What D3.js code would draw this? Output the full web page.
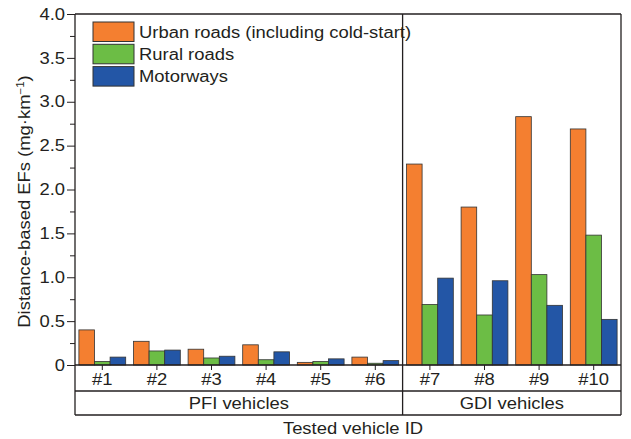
<!DOCTYPE html>
<html lang="en">
<head>
<meta charset="UTF-8">
<title>Distance-based EFs</title>
<script src="https://d3js.org/d3.v7.min.js"></script>
<style>
  * { margin: 0; padding: 0; }
  body { background: #fff; }
  text { font-family: "Liberation Sans", Arial, sans-serif; fill: #231f20; }
</style>
</head>
<body>
<div id="chart"></div>
<script>
// data
const vehicles = ["#1", "#2", "#3", "#4", "#5", "#6", "#7", "#8", "#9", "#10"];
const urban    = [0.40, 0.27, 0.18, 0.23, 0.03, 0.09, 2.29, 1.80, 2.83, 2.69];
const rural    = [0.04, 0.16, 0.08, 0.06, 0.04, 0.02, 0.69, 0.57, 1.03, 1.48];
const motorway = [0.09, 0.17, 0.10, 0.15, 0.07, 0.05, 0.99, 0.96, 0.68, 0.52];
const seriesNames = ["Urban roads (including cold-start)", "Rural roads", "Motorways"];
const colors = ["#f47f30", "#6cbd45", "#2356a6"];
const groups = [{name: "PFI vehicles", from: 0, to: 5}, {name: "GDI vehicles", from: 6, to: 9}];
const yTicks = [0, 0.5, 1.0, 1.5, 2.0, 2.5, 3.0, 3.5, 4.0];

const W = 631, H = 439;
const mLeft = 75, mRight = 621, mTop = 14, mBottom = 365;
const widen = 1.15; // the original lettering is a bit wider than Arial

const svg = d3.select("#chart").append("svg")
  .attr("width", W).attr("height", H);

const x = d3.scaleBand().domain(vehicles).range([mLeft, mRight]).padding(0);
const x1 = d3.scaleBand().domain(seriesNames).range([0, x.bandwidth()])
  .paddingOuter(0.25).paddingInner(0);
const y = d3.scaleLinear().domain([0, 4]).range([mBottom, mTop]);

const table = vehicles.map((v, i) => ({id: v, vals: [urban[i], rural[i], motorway[i]]}));

// bars
const g = svg.selectAll("g.grp").data(table).enter().append("g")
  .attr("class", "grp")
  .attr("transform", d => `translate(${x(d.id)},0)`);
g.selectAll("rect").data(d => d.vals.map((v, k) => ({k, v}))).enter().append("rect")
  .attr("x", d => x1(seriesNames[d.k]))
  .attr("width", x1.bandwidth())
  .attr("y", d => y(d.v))
  .attr("height", d => mBottom - y(d.v))
  .attr("fill", d => colors[d.k])
  .attr("stroke", "#333")
  .attr("stroke-width", 0.8);

// y axis with minor ticks
const yMinor = d3.range(0.25, 4, 0.5);
svg.append("g").attr("transform", `translate(${mLeft},0)`)
  .call(d3.axisLeft(y).tickValues(yMinor).tickSize(5).tickFormat(""))
  .call(a => a.select(".domain").remove())
  .selectAll("line").attr("stroke", "#231f20");
const yAx = svg.append("g").attr("transform", `translate(${mLeft},0)`)
  .call(d3.axisLeft(y).tickValues(yTicks).tickSize(8).tickPadding(2)
    .tickFormat(d => d === 0 ? "0" : d3.format(".1f")(d)));
yAx.select(".domain").remove();
yAx.selectAll("line").attr("stroke", "#231f20");
yAx.selectAll("text").style("font-size", "16px").attr("fill", "#231f20");

// x axis ticks (pointing down)
const xAx = svg.append("g").attr("transform", `translate(0,${mBottom})`)
  .call(d3.axisBottom(x).tickSize(5).tickPadding(4));
xAx.select(".domain").remove();
xAx.selectAll("line").attr("stroke", "#231f20");
xAx.selectAll("text").style("font-size", "16px").attr("fill", "#231f20");

// frame lines
const line = (xa, ya, xb, yb, w) => svg.append("line")
  .attr("x1", xa).attr("y1", ya).attr("x2", xb).attr("y2", yb)
  .attr("stroke", "#231f20").attr("stroke-width", w || 1.3);
const row1 = 391, row2 = 415;
line(mLeft, mTop, mRight, mTop);
line(mLeft, mTop, mLeft, row2);
line(mRight, mTop, mRight, row2);
line(mLeft, mBottom, mRight, mBottom);
line(mLeft, row1, mRight, row1);
line(mLeft, row2, mRight, row2);
const divX = x(vehicles[groups[1].from]);
line(divX, mTop, divX, row2);

// group labels
svg.selectAll("text.grpLabel").data(groups).enter().append("text")
  .attr("class", "grpLabel")
  .attr("x", d => (x(vehicles[d.from]) + x(vehicles[d.to]) + x.bandwidth()) / 2)
  .attr("y", (row1 + row2) / 2 + 6)
  .attr("text-anchor", "middle")
  .style("font-size", "16px")
  .text(d => d.name);

// axis titles
svg.append("text")
  .attr("x", (mLeft + mRight) / 2 + 5).attr("y", 434)
  .attr("text-anchor", "middle").style("font-size", "16px")
  .text("Tested vehicle ID");
const yt = svg.append("text")
  .attr("transform", `translate(30,${(mTop + mBottom) / 2 + 12}) rotate(-90)`)
  .attr("text-anchor", "middle").style("font-size", "16px");
yt.append("tspan").text("Distance-based EFs (mg·km");
yt.append("tspan").attr("dy", -6).style("font-size", "10px").text("−1");
yt.append("tspan").attr("dy", 6).text(")");

// legend
const leg = svg.selectAll("g.leg").data(seriesNames).enter().append("g")
  .attr("class", "leg")
  .attr("transform", (d, i) => `translate(93,${22 + i * 22.3})`);
leg.append("rect").attr("width", 41).attr("height", 19.5)
  .attr("fill", (d, i) => colors[i]).attr("stroke", "#333").attr("stroke-width", 1);
leg.append("text").attr("x", 46).attr("y", 15.5)
  .style("font-size", "16px").text(d => d);

// stretch lettering horizontally along its baseline
svg.selectAll("text").each(function() {
  const len = this.getComputedTextLength();
  d3.select(this).attr("textLength", len * widen).attr("lengthAdjust", "spacingAndGlyphs");
});
</script>
</body>
</html>
